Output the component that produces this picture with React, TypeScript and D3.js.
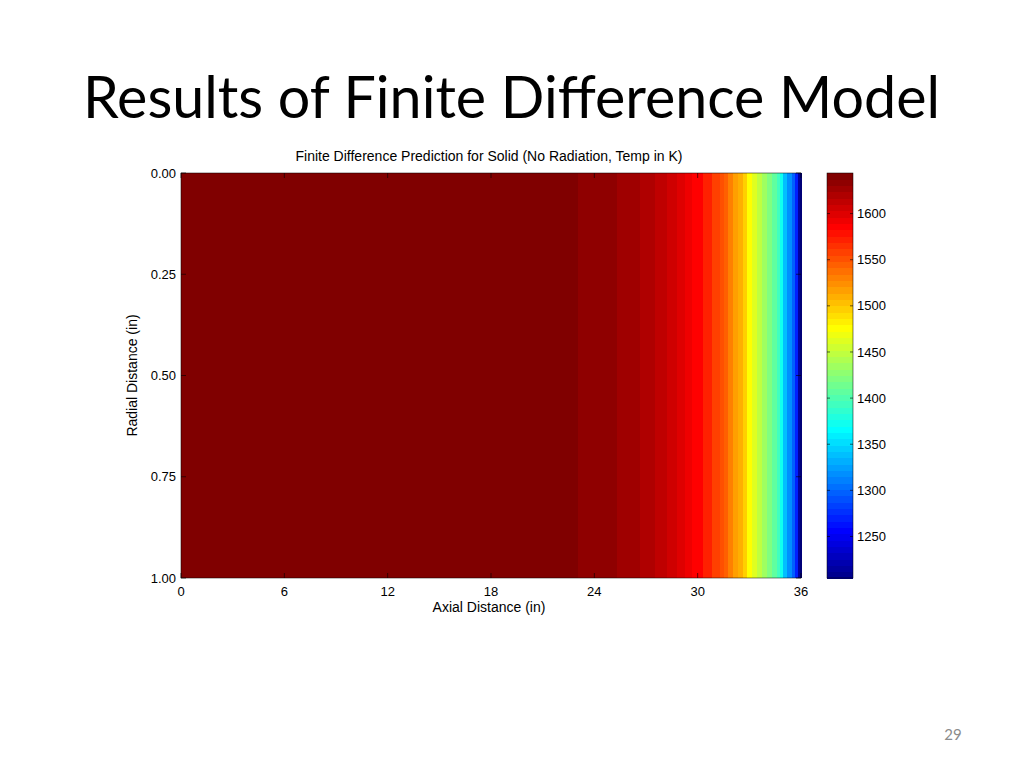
import React from 'react';
import * as d3 from 'd3';

// Axial band starts (in) and temperature (K) of each band
const axialStarts = [0, 23.05, 25.32, 26.65, 27.52, 28.22, 28.8, 29.26, 29.67, 30.31, 30.83, 31.3, 31.53, 31.76, 32.05, 32.34, 32.63, 32.86, 33.15, 33.45, 33.74, 34.03, 34.32, 34.61, 34.78, 34.95, 35.19, 35.48, 35.65, 35.83];
const bandTemps = [1642, 1631, 1624, 1617, 1610, 1603, 1596, 1590, 1583, 1573, 1559, 1552, 1545, 1532, 1518, 1511, 1497, 1476, 1463, 1449, 1435, 1421, 1408, 1394, 1373, 1339, 1318, 1297, 1270, 1215];
const axialMax = 36;
const radialMax = 1;
const xTicks = [0, 6, 12, 18, 24, 30, 36];
const yTicks = [0, 0.25, 0.5, 0.75, 1];
const cbTicks = [1250, 1300, 1350, 1400, 1450, 1500, 1550, 1600];
const cMin = 1205;
const cMax = 1644;

const slideTitle = 'Results of Finite Difference Model';
const chartTitle = 'Finite Difference Prediction for Solid (No Radiation, Temp in K)';
const xLabel = 'Axial Distance (in)';
const yLabel = 'Radial Distance (in)';
const pageNumber = '29';

function jet(m: number): string[] {
  const n = m / 4;
  const u: number[] = [];
  for (let i = 1; i <= n; i++) u.push(i / n);
  for (let i = 1; i < n; i++) u.push(1);
  for (let i = n; i >= 1; i--) u.push(i / n);
  const gOff = Math.ceil(n / 2) - (m % 4 === 1 ? 1 : 0);
  const R = new Array(m).fill(0), G = new Array(m).fill(0), B = new Array(m).fill(0);
  u.forEach((v, k) => {
    const g = gOff + k + 1;
    const r = g + n;
    const b = g - n;
    if (g >= 1 && g <= m) G[g - 1] = v;
    if (r >= 1 && r <= m) R[r - 1] = v;
    if (b >= 1 && b <= m) B[b - 1] = v;
  });
  return R.map((_, i) => d3.rgb(R[i] * 255, G[i] * 255, B[i] * 255).formatHex());
}

const colors = jet(64);

export default function App() {
  const W = 1024, H = 768;
  const L = 181, R = 801, T = 173, Bt = 578;
  const x = d3.scaleLinear().domain([0, axialMax]).range([L, R]);
  const y = d3.scaleLinear().domain([0, radialMax]).range([T, Bt]);
  const color = d3.scaleQuantize<string>().domain([cMin, cMax]).range(colors);
  const cbL = 827, cbR = 853;
  const cy = d3.scaleLinear().domain([cMin, cMax]).range([Bt, T]);
  const font = "'Liberation Sans', Arial, Helvetica, sans-serif";
  const tickLen = 5;

  return (
    <svg width={W} height={H} style={{ position: 'absolute', left: 0, top: 0, background: '#fff' }}>
      <rect x={0} y={0} width={W} height={H} fill="#fff" />
      <text x={83} y={118} fontFamily="Lato, 'Open Sans', sans-serif" fontSize={58} fill="#000"
        textLength={857} lengthAdjust="spacingAndGlyphs">{slideTitle}</text>

      <text x={489} y={161} textAnchor="middle" fontFamily={font} fontSize={14} fill="#000">{chartTitle}</text>

      {axialStarts.map((s, i) => {
        const e = i + 1 < axialStarts.length ? axialStarts[i + 1] : axialMax;
        return (
          <rect key={i} x={x(s)} y={y(0)} width={x(e) - x(s) + 0.5} height={y(radialMax) - y(0)}
            fill={color(bandTemps[i])} shapeRendering="crispEdges" />
        );
      })}

      <rect x={L} y={T} width={R - L} height={Bt - T} fill="none" stroke="#000" strokeWidth={0.5} />

      {xTicks.map((t) => (
        <g key={'x' + t}>
          <line x1={x(t)} x2={x(t)} y1={Bt} y2={Bt - tickLen} stroke="#000" strokeWidth={0.6} />
          <line x1={x(t)} x2={x(t)} y1={T} y2={T + tickLen} stroke="#000" strokeWidth={0.6} />
          <text x={x(t)} y={596} textAnchor="middle" fontFamily={font} fontSize={13} fill="#000">{t}</text>
        </g>
      ))}
      {yTicks.map((t) => (
        <g key={'y' + t}>
          <line x1={L} x2={L + tickLen} y1={y(t)} y2={y(t)} stroke="#000" strokeWidth={0.6} />
          <line x1={R} x2={R - tickLen} y1={y(t)} y2={y(t)} stroke="#000" strokeWidth={0.6} />
          <text x={176} y={y(t)} dy="0.35em" textAnchor="end" fontFamily={font} fontSize={13} fill="#000">{t.toFixed(2)}</text>
        </g>
      ))}

      <text x={489} y={612} textAnchor="middle" fontFamily={font} fontSize={14} fill="#000">{xLabel}</text>
      <text transform={`translate(137,${(T + Bt) / 2}) rotate(-90)`} textAnchor="middle" fontFamily={font} fontSize={14} fill="#000">{yLabel}</text>

      {colors.map((c, i) => {
        const v0 = cMin + (i * (cMax - cMin)) / colors.length;
        const v1 = cMin + ((i + 1) * (cMax - cMin)) / colors.length;
        return <rect key={'cb' + i} x={cbL} y={cy(v1)} width={cbR - cbL} height={cy(v0) - cy(v1) + 0.5} fill={c} shapeRendering="crispEdges" />;
      })}
      <rect x={cbL} y={T} width={cbR - cbL} height={Bt - T} fill="none" stroke="#000" strokeWidth={0.5} />
      {cbTicks.map((t) => (
        <g key={'cb' + t}>
          <line x1={cbL} x2={cbL + 3} y1={cy(t)} y2={cy(t)} stroke="#000" strokeWidth={0.6} />
          <line x1={cbR} x2={cbR - 3} y1={cy(t)} y2={cy(t)} stroke="#000" strokeWidth={0.6} />
          <text x={857} y={cy(t)} dy="0.35em" fontFamily={font} fontSize={13} fill="#000">{t}</text>
        </g>
      ))}

      <text x={953} y={740} textAnchor="middle" fontFamily="Lato, 'Open Sans', sans-serif" fontSize={15} fill="#8c8c8c">{pageNumber}</text>
    </svg>
  );
}
